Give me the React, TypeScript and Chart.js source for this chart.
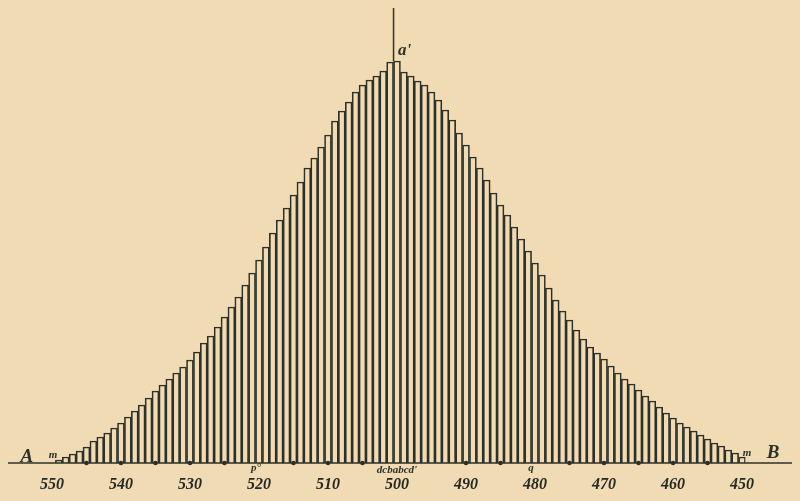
import React, { useEffect, useRef } from "react";
import { Chart, registerables } from "chart.js";

Chart.register(...registerables);

// categories: 550 down to 450
const categories: string[] = [];
for (let v = 550; v >= 450; v--) categories.push(String(v));

// bar heights, in the order of categories (550 → 450)
const heights: number[] = [
  0, 3, 6, 9, 12, 16, 22, 26, 30, 35, // 550-541
  40, 46, 52, 58, 65, 72, 78, 84, 90, 96, // 540-531
  103, 111, 120, 127, 136, 146, 156, 166, 178, 190, // 530-521
  203, 216, 230, 243, 255, 268, 281, 295, 305, 316, // 520-511
  328, 342, 352, 361, 371, 378, 383, 387, 392, 401, // 510-501
  402, // 500
  391, 387, 382, 378, 371, 363, 353, 343, 330, // 499-491
  318, 306, 295, 283, 270, 258, 248, 236, 224, 212, // 490-481
  200, 188, 175, 163, 152, 143, 133, 124, 116, 110, // 480-471
  104, 97, 90, 84, 79, 73, 67, 62, 56, 50, // 470-461
  45, 40, 36, 32, 28, 24, 20, 17, 13, 10, // 460-451
  6, // 450
];

const tickLabels: string[] = ["550", "540", "530", "520", "510", "500", "490", "480", "470", "460", "450"];

// marks (dots) on the base line
const dotValues: string[] = [
  "545", "540", "535", "530", "525", "515", "510", "505",
  "490", "485", "475", "470", "465", "460", "455",
];

const Y_MAX = 455;
const INK = "#2e3128";
const PAPER = "rgb(241, 219, 180)";

const decorPlugin = {
  id: "decor",
  afterDatasetsDraw(chart: any) {
    const { ctx } = chart;
    const xs = chart.scales.x;
    const ys = chart.scales.y;
    const px = (lab: string) => xs.getPixelForValue(categories.indexOf(lab));
    const base = ys.getPixelForValue(0);
    ctx.save();
    ctx.strokeStyle = INK;
    ctx.fillStyle = INK;
    // base line A-B
    ctx.lineWidth = 1.6;
    ctx.beginPath();
    ctx.moveTo(8, base);
    ctx.lineTo(792, base);
    ctx.stroke();
    // central ordinate
    const xc = (px("501") + px("500")) / 2;
    const peak = Math.max(heights[categories.indexOf("501")], heights[categories.indexOf("500")]);
    ctx.lineWidth = 1.5;
    ctx.beginPath();
    ctx.moveTo(xc, ys.getPixelForValue(Y_MAX));
    ctx.lineTo(xc, ys.getPixelForValue(peak));
    ctx.stroke();

    const serif = '"Liberation Serif", "DejaVu Serif", serif';
    ctx.textBaseline = "middle";
    ctx.textAlign = "center";
    // a'
    ctx.font = `italic bold 17px ${serif}`;
    ctx.fillText("a'", xc + 11, ys.getPixelForValue(peak) - 10);
    // A and B
    ctx.font = `italic bold 19px ${serif}`;
    ctx.fillText("A", px("550") - 25, base - 6);
    ctx.fillText("B", px("450") + 31, base - 10);
    // m marks
    ctx.font = `italic bold 11px ${serif}`;
    ctx.fillText("m", px("550") + 1, base - 8);
    ctx.fillText("m", px("450") + 5, base - 10);
    // labels under the line
    ctx.font = `italic bold 11px ${serif}`;
    ctx.fillText("p°", px("520") - 3, base + 5);
    ctx.fillText("q", px("480") - 4, base + 5);
    ctx.fillText("dcbabcd'", px("500"), base + 7);
    ctx.restore();
  },
};

export default function App() {
  const ref = useRef<HTMLCanvasElement | null>(null);
  useEffect(() => {
    if (!ref.current) return;
    const chart = new Chart(ref.current, {
      type: "bar",
      data: {
        labels: categories,
        datasets: [
          {
            type: "bar",
            data: heights,
            backgroundColor: "rgba(0,0,0,0)",
            borderColor: INK,
            borderWidth: 1,
            borderSkipped: "bottom",
            categoryPercentage: 1,
            barPercentage: 1,
            order: 2,
          } as any,
          {
            type: "line",
            data: categories.map((c) => (dotValues.includes(c) ? 0 : null)),
            showLine: false,
            pointRadius: 2.3,
            pointBackgroundColor: INK,
            pointBorderWidth: 0,
            clip: false,
            order: 1,
          } as any,
        ],
      },
      options: {
        responsive: false,
        animation: false,
        layout: { padding: { left: 48.5, right: 54.5, top: 8, bottom: 0 } },
        plugins: { legend: { display: false }, tooltip: { enabled: false } },
        scales: {
          x: {
            type: "category",
            offset: true,
            grid: { display: false, drawTicks: false },
            border: { display: false },
            afterFit: (s: any) => {
              s.height = 38;
            },
            ticks: {
              autoSkip: false,
              maxRotation: 0,
              padding: 12,
              color: "#262a24",
              font: { family: '"Liberation Serif", serif', style: "italic", weight: "bold", size: 16 },
              callback: (_v: any, i: number) => (tickLabels.includes(categories[i]) ? categories[i] : ""),
            },
          },
          y: { display: false, min: 0, max: Y_MAX },
        },
      },
      plugins: [decorPlugin],
    });
    return () => chart.destroy();
  }, []);
  return (
    <div style={{ position: "absolute", left: 0, top: 0, width: 800, height: 501, background: PAPER }}>
      <canvas ref={ref} width={800} height={501} />
    </div>
  );
}
